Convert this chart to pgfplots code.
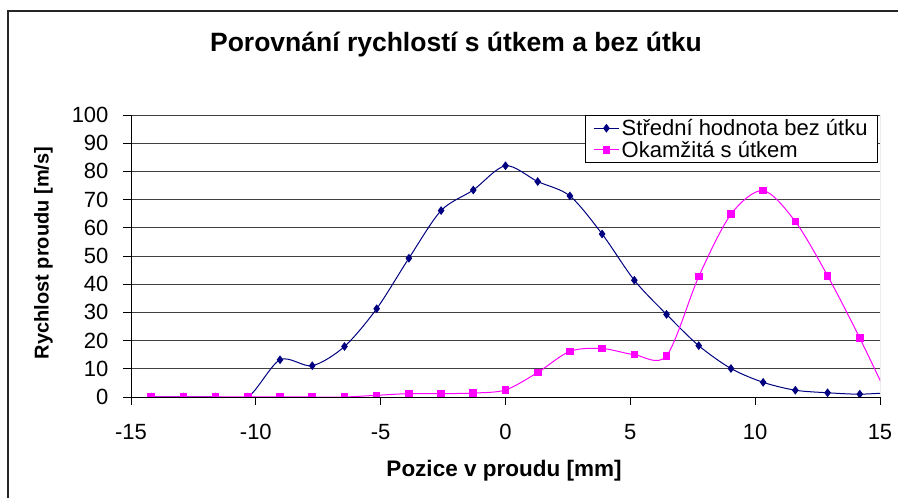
\documentclass[border=0pt]{standalone}
\usepackage{fontspec}
\setmainfont{Liberation Sans}
\usepackage{pgfplots}
\pgfplotsset{compat=1.18}
\definecolor{navyb}{RGB}{0,0,128}
\definecolor{magp}{RGB}{255,0,255}
\begin{document}
\begin{tikzpicture}[x=1pt,y=1pt]
\useasboundingbox (0,0) rectangle (898,498);
\draw[line width=1.3pt, black!85] (8,-10) -- (8,487) -- (910,487);
\node[font=\fontsize{26.5}{30}\selectfont\bfseries] at (456,453) {Porovnání rychlostí s útkem a bez útku};
\begin{axis}[
  at={(131pt,101pt)}, anchor=south west,
  scale only axis, width=749pt, height=282pt,
  xmin=-15, xmax=15, ymin=0, ymax=100,
  xtick={-15,-10,...,15}, ytick={0,10,...,100},
  axis x line*=bottom, axis y line*=left,
  axis line style={black, line width=0.8pt, -},
  tick align=outside, major tick length=8pt,
  tick style={black, line width=0.8pt},
  ymajorgrids, grid style={black!75, line width=0.8pt},
  /pgf/number format/assume math mode=true,
  ticklabel style={font=\fontsize{22}{25}\selectfont},
  xticklabel style={yshift=-16pt},
  yticklabel style={xshift=-11pt},
  xlabel={Pozice v proudu [mm]}, ylabel={Rychlost proudu [m/s]},
  xlabel style={font=\fontsize{22.5}{25}\selectfont\bfseries, at={(axis description cs:0.498,-0.262)}, anchor=center},
  ylabel style={font=\fontsize{20}{23}\selectfont\bfseries, at={(axis description cs:-0.117,0.511)}, anchor=center},
  clip marker paths=true,
  legend style={at={(rel axis cs:0.9973,1)}, anchor=north east, draw=black, fill=white,
    font=\fontsize{22}{24}\selectfont, inner xsep=8pt, inner ysep=2pt, row sep=0pt,
    cells={anchor=west}, line width=0.8pt},
  legend image code/.code={\draw[mark repeat=2,mark phase=2,#1] plot coordinates {(0cm,0cm) (0.45cm,0cm) (0.9cm,0cm)};},
]
\addplot[navyb, line width=1pt, smooth, mark=diamond*, mark size=3.6pt, mark options={solid,fill=navyb}] coordinates {
(-14.19,0) (-12.9,0) (-11.61,0) (-10.32,0) (-9.03,13.2) (-7.74,11.1) (-6.45,17.9) (-5.16,31.3)
(-3.87,49.2) (-2.58,66.1) (-1.29,73.4) (0,82.0) (1.29,76.4) (2.58,71.3) (3.87,57.8) (5.16,41.4)
(6.45,29.3) (7.74,18.2) (9.03,10.1) (10.32,5.2) (11.61,2.4) (12.9,1.5) (14.19,1.0) (15.48,1.6)};
\addlegendentry{Střední hodnota bez útku}
\addplot[magp, line width=1pt, smooth, mark=square*, mark size=3.3pt, mark options={solid,fill=magp}] coordinates {
(-14.19,0) (-12.9,0) (-11.61,0) (-10.32,0) (-9.03,0) (-7.74,0) (-6.45,0) (-5.16,0.6)
(-3.87,1.2) (-2.58,1.2) (-1.29,1.4) (0,2.5) (1.29,8.7) (2.58,16.2) (3.87,17.2) (5.16,15.0)
(6.45,14.6) (7.74,42.7) (9.03,64.8) (10.32,73.2) (11.61,62.2) (12.9,43.0) (14.19,20.9) (15.48,-3)};
\addlegendentry{Okamžitá s útkem}
\draw[black!60, line width=0.8pt] (rel axis cs:1,0) -- (rel axis cs:1,1);
\end{axis}
\end{tikzpicture}
\end{document}
